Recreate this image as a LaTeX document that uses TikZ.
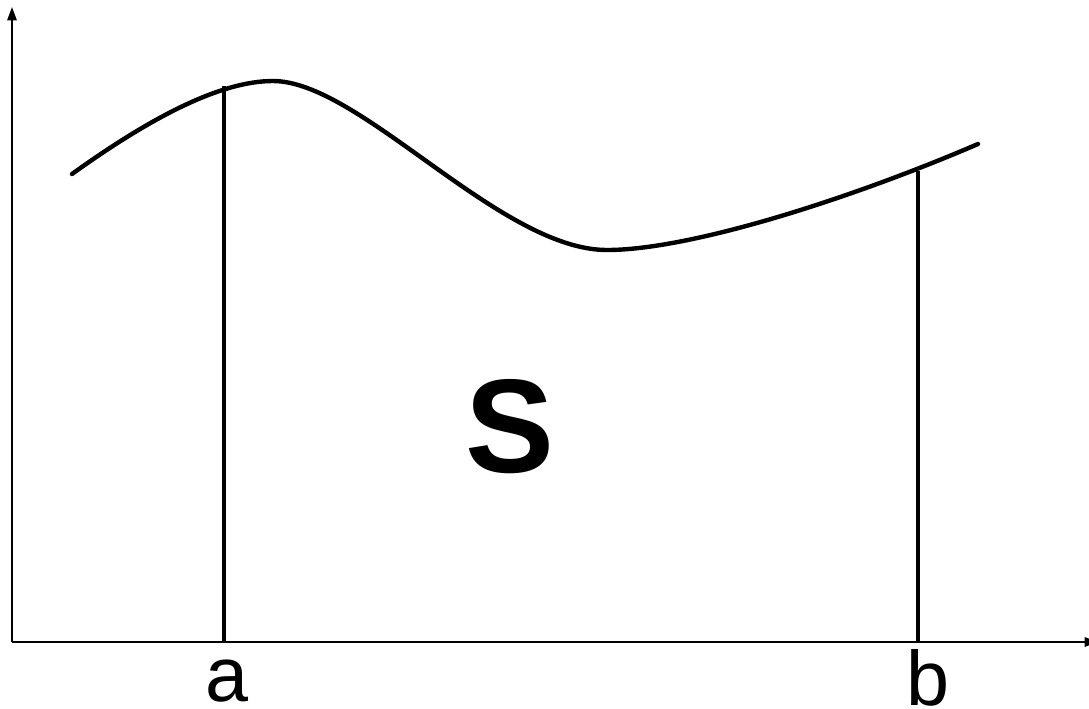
\documentclass[tikz,border=0pt]{standalone}
\usepackage{fontspec}
\setmainfont{Liberation Sans}
\usetikzlibrary{arrows.meta}
\begin{document}
\begin{tikzpicture}[x=0.75pt,y=-0.75pt,
  axisline/.style={line width=1.5pt,-{Triangle[width=7pt,length=10pt]}},
  boundline/.style={line width=2.3pt},
  curveline/.style={line width=3.3pt,line cap=round},
  lbl/.style={inner sep=0pt,anchor=base,font=\fontsize{58}{60}\selectfont}]
\useasboundingbox (0,0) rectangle (1089,708);
\coordinate (O) at (12,642);
\coordinate (ytop) at (12,7);
\coordinate (xend) at (1098,642);
\coordinate (abot) at (224,642);
\coordinate (atop) at (224,86);
\coordinate (bbot) at (918,642);
\coordinate (btop) at (918,171);
\coordinate (c0) at (72,174);
\coordinate (c1) at (273,81);
\coordinate (c2) at (607,250);
\coordinate (c3) at (978,144);
\draw[axisline] (O) -- (ytop);
\draw[axisline] (O) -- (xend);
\draw[boundline] (abot) -- (atop);
\draw[boundline] (bbot) -- (btop);
\draw[curveline] (c0) .. controls (150,118) and (220,81) .. (c1)
  .. controls (360,81) and (500,250) .. (c2)
  .. controls (690,250) and (850,199) .. (c3);
\node[lbl] (la) at (227,701) {a};
\node[lbl] (lb) at (928,705) {b};
\node[inner sep=0pt,anchor=base,font=\fontsize{100}{102}\selectfont\bfseries] (S) at (510,472) {S};
\end{tikzpicture}
\end{document}
